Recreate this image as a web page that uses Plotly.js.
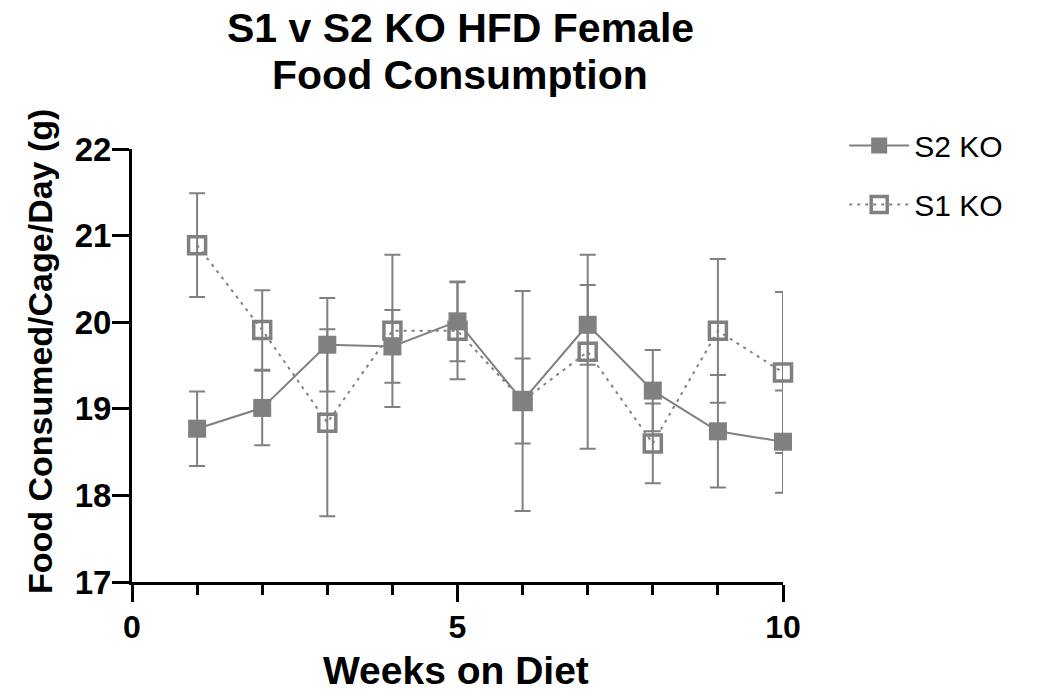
<!DOCTYPE html>
<html>
<head>
<meta charset="utf-8">
<script src="https://cdn.plot.ly/plotly-3.0.1.min.js"></script>
<style>html,body{margin:0;padding:0;background:#fff;}#chart{width:1038px;height:697px;}</style>
</head>
<body>
<div id="chart"></div>
<script>
const weeks = [1, 2, 3, 4, 5, 6, 7, 8, 9, 10];
const s2Mean = [18.77, 19.01, 19.74, 19.72, 20.01, 19.09, 19.97, 19.21, 18.74, 18.62];
const s2Err  = [0.43, 0.43, 0.54, 0.42, 0.46, 0.49, 0.46, 0.47, 0.65, 0.59];
const s1Mean = [20.89, 19.91, 18.84, 19.90, 19.90, 19.09, 19.66, 18.60, 19.90, 19.42];
const s1Err  = [0.60, 0.46, 1.08, 0.88, 0.56, 1.27, 1.12, 0.46, 0.83, 0.93];
const seriesNames = ["S2 KO", "S1 KO"];
const titleLines = ["S1 v S2 KO HFD Female", "Food Consumption"];
const xTitle = "Weeks on Diet";
const yTitle = "Food Consumed/Cage/Day (g)";
const xTicks = [0, 5, 10];
const yTicks = [17, 18, 19, 20, 21, 22];

const grey = "#808080";
const fam = "Liberation Sans, Arial, sans-serif";

const traceS1 = {
  x: weeks, y: s1Mean, name: seriesNames[1], type: "scatter", mode: "lines+markers",
  legendgroup: "b", legendrank: 2,
  line: {color: grey, width: 2, dash: "3px,5px"},
  marker: {symbol: "square-open", size: 17, color: grey, line: {width: 3.5, color: grey}},
  error_y: {type: "data", array: s1Err, visible: true, color: grey, thickness: 2, width: 8},
  cliponaxis: false
};
const traceS2 = {
  x: weeks, y: s2Mean, name: seriesNames[0], type: "scatter", mode: "lines+markers",
  legendgroup: "a", legendrank: 1,
  line: {color: grey, width: 2},
  marker: {symbol: "square", size: 18, color: grey},
  error_y: {type: "data", array: s2Err, visible: true, color: grey, thickness: 2, width: 8},
  cliponaxis: false
};

const titleFont = {family: fam, size: 41, weight: "bold", color: "#000"};

const layout = {
  width: 1038, height: 697,
  margin: {l: 132, r: 255, t: 149, b: 115},
  paper_bgcolor: "#fff", plot_bgcolor: "#fff",
  showlegend: true,
  annotations: [
    {text: titleLines[0], xref: "paper", yref: "paper", x: 0.504, y: 1.279, xanchor: "center", yanchor: "middle", showarrow: false, font: titleFont},
    {text: titleLines[1], xref: "paper", yref: "paper", x: 0.504, y: 1.170, xanchor: "center", yanchor: "middle", showarrow: false, font: titleFont},
    {text: yTitle, xref: "paper", yref: "paper", x: -0.1413, y: 0.531, xanchor: "center", yanchor: "middle", textangle: -90, showarrow: false,
     font: {family: fam, size: 34, weight: "bold", color: "#000"}},
    {text: xTitle, xref: "paper", yref: "paper", x: 0.497, y: -0.205, xanchor: "center", yanchor: "middle", showarrow: false,
     font: {family: fam, size: 39, weight: "bold", color: "#000"}}
  ],
  xaxis: {
    range: [0, 10], tickvals: xTicks, ticktext: xTicks.map(String),
    showgrid: false, zeroline: false,
    showline: true, linecolor: "#000", linewidth: 3,
    ticks: "outside", ticklen: 17, tickwidth: 3, tickcolor: "#000",
    ticklabelstandoff: -2,
    tickfont: {family: fam, size: 32, weight: "bold", color: "#000"},
    minor: {dtick: 1, tick0: 0, ticks: "outside", ticklen: 10, tickwidth: 3, tickcolor: "#000", showgrid: false}
  },
  yaxis: {
    range: [17, 22], tickvals: yTicks, ticktext: yTicks.map(String),
    showgrid: false, zeroline: false,
    showline: true, linecolor: "#000", linewidth: 3,
    ticks: "outside", ticklen: 17, tickwidth: 3, tickcolor: "#000",
    ticklabelstandoff: -6,
    tickfont: {family: fam, size: 33, weight: "bold", color: "#000"}
  },
  legend: {
    x: 1.094, xanchor: "left", y: 1.068, yanchor: "top",
    traceorder: "grouped", tracegroupgap: 17,
    font: {family: fam, size: 30, color: "#000"},
    bgcolor: "rgba(0,0,0,0)", itemwidth: 60
  }
};

Plotly.newPlot("chart", [traceS1, traceS2], layout, {displayModeBar: false, staticPlot: true});
</script>
</body>
</html>
